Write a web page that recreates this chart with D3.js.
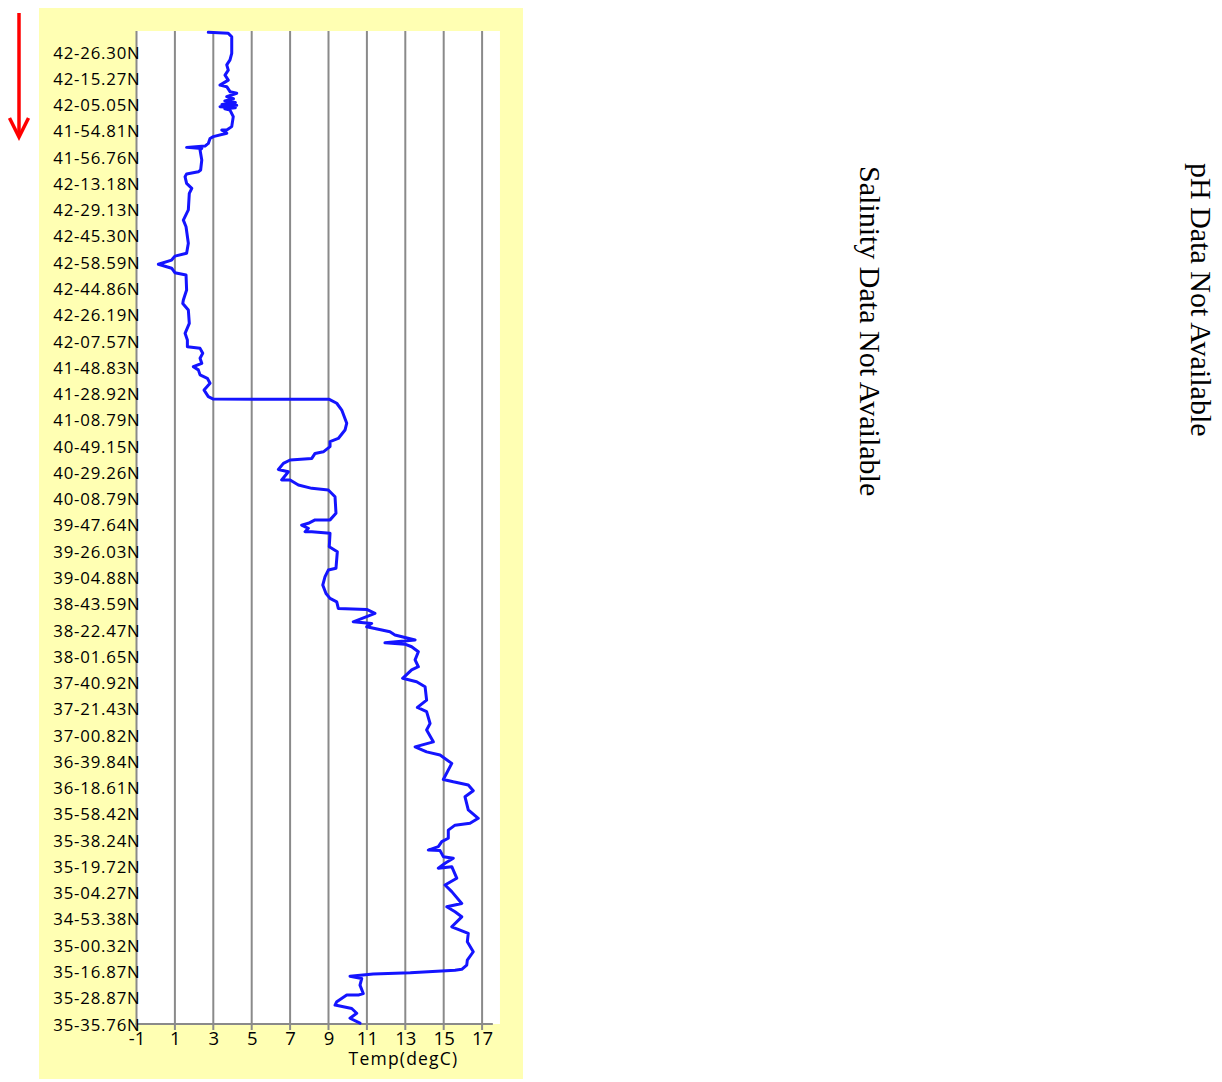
<!DOCTYPE html>
<html>
<head>
<meta charset="utf-8">
<script src="https://cdn.jsdelivr.net/npm/d3@7"></script>
<style>
  html, body { margin: 0; padding: 0; background: #ffffff; }
  svg { display: block; }
</style>
</head>
<body>
<svg id="chart" width="1222" height="1082"></svg>
<script>
// ---- data ----
const latLabels = [
  "42-26.30N","42-15.27N","42-05.05N","41-54.81N","41-56.76N","42-13.18N",
  "42-29.13N","42-45.30N","42-58.59N","42-44.86N","42-26.19N","42-07.57N",
  "41-48.83N","41-28.92N","41-08.79N","40-49.15N","40-29.26N","40-08.79N",
  "39-47.64N","39-26.03N","39-04.88N","38-43.59N","38-22.47N","38-01.65N",
  "37-40.92N","37-21.43N","37-00.82N","36-39.84N","36-18.61N","35-58.42N",
  "35-38.24N","35-19.72N","35-04.27N","34-53.38N","35-00.32N","35-16.87N",
  "35-28.87N","35-35.76N"
];
const tempTicks = [-1, 1, 3, 5, 7, 9, 11, 13, 15, 17];
const tempTitle = "Temp(degC)";

// position along track (in label-row units, 0 = first label) and temperature
const trackPos = [
  -0.75,-0.71,-0.58,0.05,0.30,0.49,0.69,0.88,1.07,1.26,1.32,1.51,1.57,1.70,1.78,1.86,1.92,2.00,2.03,2.08,2.12,2.16,2.21,
  2.46,2.84,2.97,2.97,3.09,3.22,3.29,3.48,3.58,3.63,3.67,3.73,4.11,4.49,4.56,4.64,4.75,5.00,5.19,5.38,
  6.01,6.40,6.65,7.28,7.66,7.77,7.92,8.08,8.23,8.40,8.49,9.06,9.44,9.57,9.82,10.33,10.71,10.96,11.22,
  11.28,11.47,11.66,11.85,11.98,12.10,12.29,12.42,12.61,12.87,13.12,13.21,13.22,13.37,13.63,14.13,
  14.39,14.71,14.83,15.02,15.22,15.28,15.47,15.53,15.66,15.89,15.98,16.29,16.29,16.48,16.61,16.67,
  16.93,17.56,17.81,17.81,17.94,18.01,18.13,18.26,18.26,18.32,18.83,19.02,19.65,19.72,19.97,20.29,
  20.61,20.80,20.93,21.18,21.22,21.37,21.69,21.75,21.88,22.07,22.19,22.38,22.49,22.54,22.64,22.83,
  23.14,23.40,23.52,23.84,23.97,24.16,24.67,24.95,25.11,25.56,25.81,26.26,26.45,26.64,26.76,27.08,
  27.69,27.78,27.90,28.12,28.35,28.85,29.17,29.36,29.43,29.62,29.93,30.06,30.25,30.38,30.40,30.63,
  30.69,30.88,31.07,31.01,31.45,31.71,31.96,32.41,32.54,32.73,32.92,33.30,33.55,33.87,34.25,34.57,
  34.76,34.92,34.95,35.05,35.10,35.18,35.27,35.52,35.84,35.90,35.90,36.15,36.28,36.41,36.59,36.78,36.97
];
const tempC = [
  2.74,3.78,3.96,3.96,3.87,3.70,3.78,3.61,3.78,3.35,3.70,3.87,4.22,3.70,4.05,3.60,4.15,3.45,4.22,3.35,4.15,3.60,3.87,
  4.04,3.96,3.70,3.44,3.70,3.00,2.83,2.74,2.57,1.61,2.40,2.31,2.40,2.34,2.22,1.61,1.53,1.61,1.88,1.75,
  1.70,1.44,1.58,1.70,1.61,1.00,0.83,0.14,0.83,1.00,1.58,1.61,1.44,1.41,1.70,1.75,1.53,1.65,1.65,
  2.31,2.45,2.31,2.40,1.96,2.22,2.31,2.69,2.83,2.52,2.74,3.00,9.04,9.43,9.69,9.95,
  9.86,9.51,9.08,9.08,8.73,8.30,8.13,7.00,6.65,6.39,6.91,6.56,7.00,7.43,8.13,8.99,
  9.34,9.39,9.08,8.30,7.95,7.60,7.95,7.78,8.13,9.08,9.04,9.46,9.39,8.99,8.82,8.70,
  8.87,9.08,9.43,9.51,10.99,11.42,10.29,11.25,10.99,12.20,12.46,13.51,11.94,12.98,13.33,13.68,
  13.51,13.68,13.33,12.86,13.59,14.03,14.11,13.63,14.11,14.29,14.11,14.46,13.51,14.11,14.81,15.42,
  14.98,15.50,16.28,16.54,16.11,16.28,16.80,16.37,15.59,15.24,15.24,14.90,14.72,14.20,14.81,14.98,
  15.50,15.07,14.72,15.42,15.68,15.07,15.42,15.94,15.16,15.59,15.94,15.42,16.28,16.23,16.54,16.23,
  16.20,15.94,15.59,13.26,11.33,10.12,10.73,10.64,10.81,10.55,9.95,9.43,9.34,10.21,10.47,10.12,10.64
];
const notes = ["Salinity Data Not Available", "pH Data Not Available"];

// ---- layout ----
const svg = d3.select("#chart");
const plotTop = 31, plotBottom = 1024;
const sans = "'Open Sans', sans-serif";

const x = d3.scaleLinear().domain([-1, 17]).range([136.5, 482.1]);
const y = d3.scaleLinear().domain([-0.8, latLabels.length - 1]).range([plotTop, plotBottom]);

// yellow chart background
svg.append("rect").attr("x", 39).attr("y", 8).attr("width", 484).attr("height", 1071)
  .attr("fill", "#ffffb3");

// white plot area
svg.append("rect").attr("x", x(-1)).attr("y", plotTop)
  .attr("width", x(17.93) - x(-1)).attr("height", plotBottom - plotTop)
  .attr("fill", "#ffffff");

// vertical gridlines (extend slightly below axis as tick marks)
svg.append("g").selectAll("line").data(tempTicks).join("line")
  .attr("x1", d => x(d)).attr("x2", d => x(d))
  .attr("y1", plotTop).attr("y2", plotBottom + 6)
  .attr("stroke", "#8a8a8a").attr("stroke-width", 2);

// bottom axis line
svg.append("line").attr("x1", x(-1) - 1).attr("x2", x(17.56))
  .attr("y1", plotBottom).attr("y2", plotBottom)
  .attr("stroke", "#8a8a8a").attr("stroke-width", 2);

// x tick labels
const xAxis = d3.axisBottom(x).tickValues(tempTicks).tickSize(0).tickPadding(0)
  .tickFormat(d => String(d));
const gx = svg.append("g").attr("transform", `translate(0,${plotBottom})`).call(xAxis);
gx.select(".domain").remove();
gx.selectAll("text").attr("y", 20.5).attr("dy", null)
  .attr("font-family", sans).attr("font-size", "18.5px").attr("fill", "#000");

svg.append("text").attr("x", 403.5).attr("y", 1065).attr("text-anchor", "middle")
  .attr("font-family", sans).attr("font-size", "17.5px").attr("letter-spacing", "1.2px")
  .attr("fill", "#000")
  .text(tempTitle);

// y labels
const yAxis = d3.axisLeft(y).tickValues(d3.range(latLabels.length)).tickSize(0).tickPadding(0)
  .tickFormat(i => latLabels[i]);
const gy = svg.append("g").attr("transform", `translate(140.5,0)`).call(yAxis);
gy.select(".domain").remove();
gy.selectAll("text").attr("x", 0).attr("dy", "0.36em")
  .attr("font-family", sans).attr("font-size", "16.8px").attr("letter-spacing", "0.8px")
  .attr("fill", "#000");

// temperature line
const pts = trackPos.map((p, i) => [tempC[i], p]);
const line = d3.line().x(d => x(d[0])).y(d => y(d[1]));
svg.append("path").datum(pts).attr("d", line)
  .attr("fill", "none").attr("stroke", "#1414ff").attr("stroke-width", 3)
  .attr("stroke-linejoin", "round").attr("stroke-linecap", "round");

// red direction arrow
svg.append("path").attr("d", "M19,13 L19,136")
  .attr("stroke", "#ff0000").attr("stroke-width", 3.5).attr("fill", "none");
svg.append("path").attr("d", "M9.5,118 L19,137 L28.5,118")
  .attr("stroke", "#ff0000").attr("stroke-width", 3.5).attr("fill", "none")
  .attr("stroke-linejoin", "miter");

// rotated notes
const notePos = [[860, 166], [1191, 163]];
svg.append("g").selectAll("text").data(notes).join("text")
  .attr("transform", (d, i) => `translate(${notePos[i][0]},${notePos[i][1]}) rotate(90)`)
  .attr("font-family", "'Liberation Serif', 'Times New Roman', serif")
  .attr("font-size", "30px").attr("fill", "#000")
  .text(d => d);
</script>
</body>
</html>
